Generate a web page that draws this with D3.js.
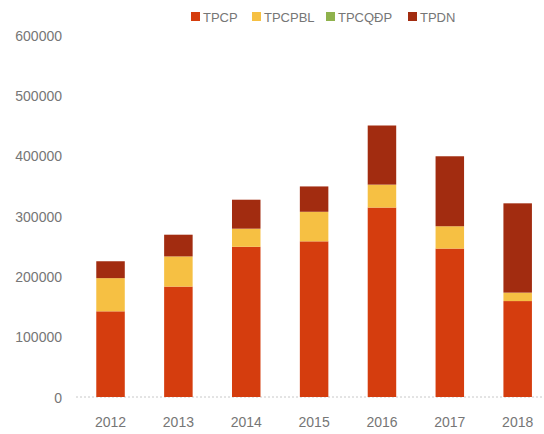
<!DOCTYPE html>
<html>
<head>
<meta charset="utf-8">
<script src="https://cdn.jsdelivr.net/npm/d3@7"></script>
<style>
  body { margin: 0; background: #fff; }
  text { font-family: "Liberation Sans", "DejaVu Sans", sans-serif; fill: #767676; }
</style>
</head>
<body>
<div id="chart"></div>
<script>
// du lieu doc tu hinh
var years = ["2012", "2013", "2014", "2015", "2016", "2017", "2018"];
var seriesNames = ["TPCP", "TPCPBL", "TPCQĐP", "TPDN"];
var tpcp   = [142000, 183000, 249000, 258000, 314000, 246000, 159000];
var tpcpbl = [55000, 50000, 30000, 49000, 38000, 37000, 14000];
var tpcqdp = [0, 0, 0, 0, 0, 0, 0];
var tpdn   = [28000, 36000, 48000, 42000, 98000, 116000, 148000];
var yTicks = [0, 100000, 200000, 300000, 400000, 500000, 600000];
var colors = ["#d53d0e", "#f6c043", "#8fb24c", "#a22c10"];

var width = 544, height = 434;
var svg = d3.select("#chart").append("svg").attr("width", width).attr("height", height);

var rows = years.map(function(y, i){
	return { year: y, TPCP: tpcp[i], TPCPBL: tpcpbl[i], "TPCQĐP": tpcqdp[i], TPDN: tpdn[i] };
});
var stacked = d3.stack().keys(seriesNames)(rows);

var x = d3.scaleBand().domain(years).range([76.6, 551.6]).paddingInner(0.58).paddingOuter(0.29);
var y = d3.scaleLinear().domain([0, 600000]).range([397, 35]);

// duong truc 0
svg.append("line")
	.attr("x1", 76).attr("x2", width)
	.attr("y1", y(0)).attr("y2", y(0))
	.attr("stroke", "#c8c8c8").attr("stroke-dasharray", "2,2");

var yAxis = svg.append("g").attr("transform", "translate(62,0)")
	.call(d3.axisLeft(y).tickValues(yTicks).tickSize(0).tickPadding(0).tickFormat(d3.format("d")));
yAxis.select(".domain").remove();
yAxis.selectAll("text").style("font-size", "14px").attr("dy", "0.36em");

var xAxis = svg.append("g").attr("transform", "translate(0," + y(0) + ")")
	.call(d3.axisBottom(x).tickSize(0).tickPadding(20));
xAxis.select(".domain").remove();
xAxis.selectAll("text").style("font-size", "14px");

svg.append("g").selectAll("g").data(stacked).enter().append("g")
	.attr("fill", function(d, i){ return colors[i]; })
	.selectAll("rect").data(function(d){ return d; }).enter().append("rect")
	.attr("x", function(d){ return x(d.data.year); })
	.attr("width", x.bandwidth())
	.attr("y", function(d){ return y(d[1]); })
	.attr("height", function(d){ return y(d[0]) - y(d[1]); });

// chu giai
var legendX = [191, 252, 326, 408];
var legend = svg.append("g");
seriesNames.forEach(function(name, i){
	legend.append("rect").attr("x", legendX[i]).attr("y", 12).attr("width", 9).attr("height", 9).attr("fill", colors[i]);
	legend.append("text").attr("x", legendX[i] + 12).attr("y", 21.5).style("font-size", "13px").text(name);
});
</script>
</body>
</html>
